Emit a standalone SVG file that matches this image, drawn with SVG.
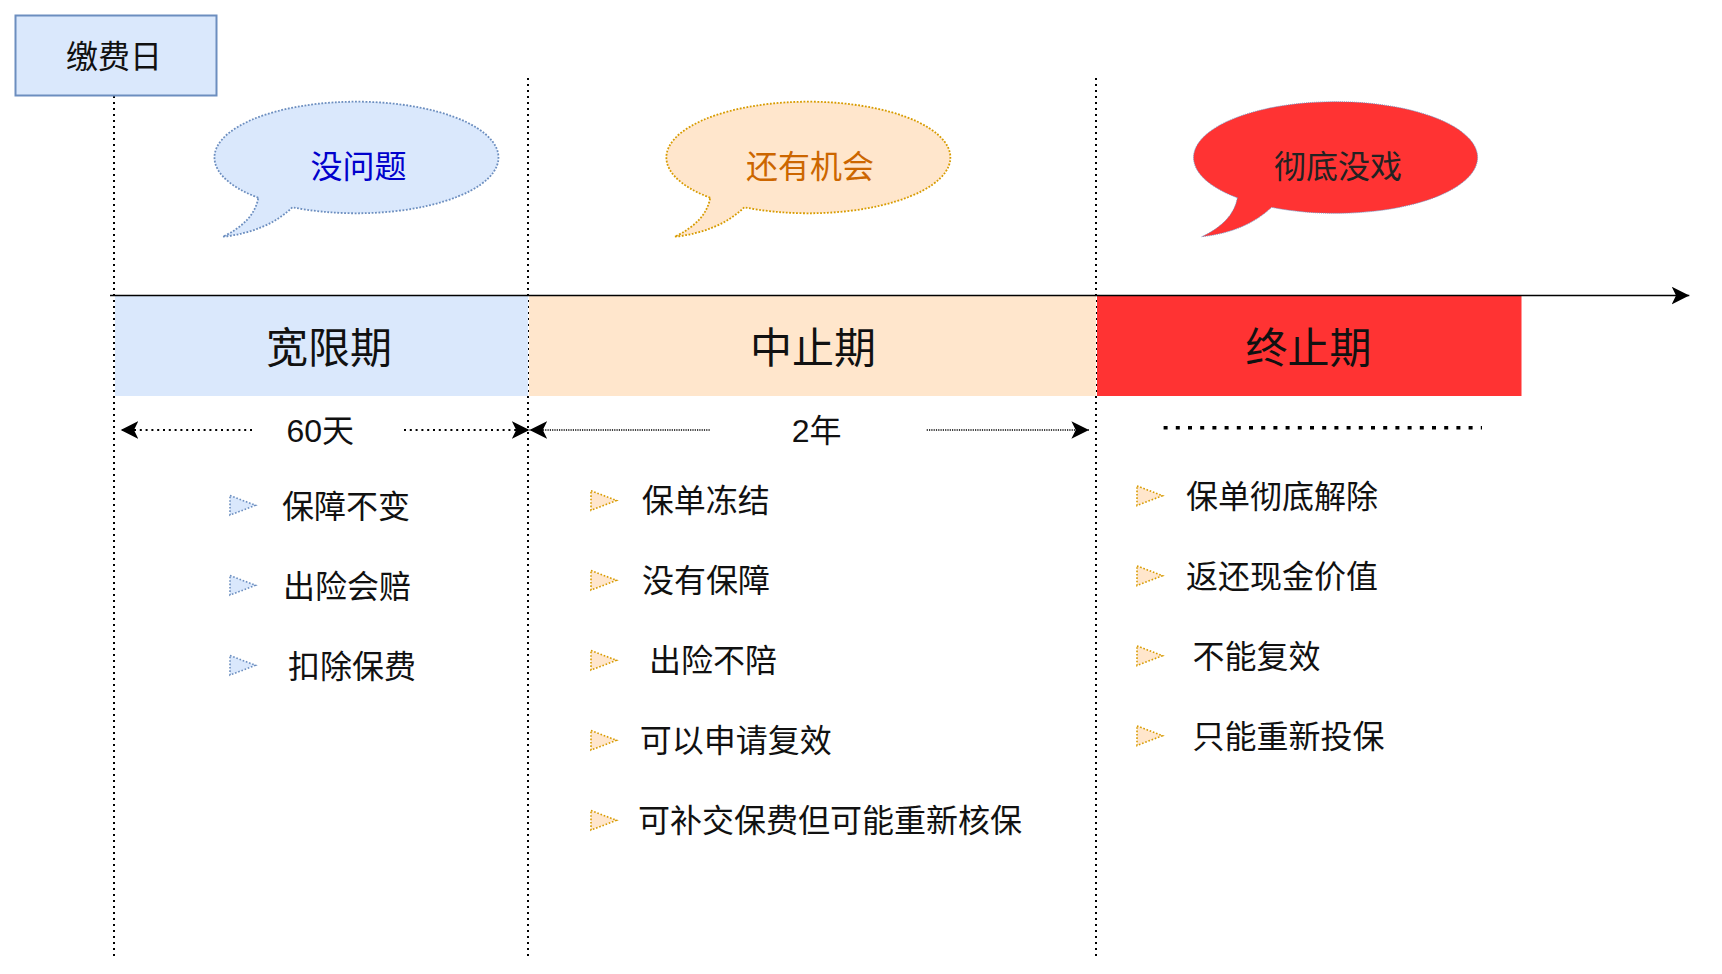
<svg xmlns="http://www.w3.org/2000/svg" width="1722" height="974" viewBox="0 0 1722 974">
<style>
.t{font-family:"Liberation Sans","Noto Sans CJK SC",sans-serif;font-size:32px;fill:#111;text-anchor:middle}
.title{font-size:42px}
.guide{stroke:#000;stroke-width:2;stroke-dasharray:2 4;fill:none}
.tri1{fill:#dae8fc;stroke:#6c8ebf;stroke-width:1.6;stroke-dasharray:1.6 1.8}
.tri2{fill:#ffe6cc;stroke:#d79b00;stroke-width:1.6;stroke-dasharray:1.6 1.8}
</style>
<defs>
<marker id="arr" markerUnits="userSpaceOnUse" markerWidth="18" markerHeight="18" viewBox="0 0 18 18" refX="17.6" refY="8.8" orient="auto">
<path d="M0,0 L17.6,8.8 L0,17.6 L4.3,8.8 Z" fill="#000" stroke="none"/>
</marker>
<polygon id="tri" points="0,-9.8 25.5,0 0,9.8"/>
</defs>
<rect width="1722" height="974" fill="#fff"/>

<g id="guides">
<line class="guide" x1="114" y1="96" x2="114" y2="956"/>
<line class="guide" x1="528" y1="78" x2="528" y2="956"/>
<line class="guide" x1="1096" y1="78" x2="1096" y2="956"/>
</g>

<g id="node-payday">
<rect x="15.5" y="15.5" width="201" height="80" fill="#dae8fc" stroke="#6c8ebf" stroke-width="2"/>
<text class="t" x="114" y="67.8">缴费日</text>
</g>

<g id="bubble-ok">
<path d="M258.3,197.8 A142,55.8 0 1 1 292.5,207.3 Q266.4,232 222.7,236.7 Q254,222 258.3,197.8 Z" fill="#dae8fc" stroke="#6c8ebf" stroke-width="1.8" stroke-dasharray="1.8 1.6"/>
<text class="t" x="358.4" y="178" style="fill:#0000cc">没问题</text>
</g>
<g id="bubble-chance">
<path d="M710.2,197.8 A142,55.8 0 1 1 744.4,207.3 Q718.3,232 674.6,236.7 Q705.9,222 710.2,197.8 Z" fill="#ffe6cc" stroke="#d79b00" stroke-width="1.8" stroke-dasharray="1.8 1.6"/>
<text class="t" x="810" y="178" style="fill:#cc6600">还有机会</text>
</g>
<g id="bubble-over">
<path d="M1237.4,197.8 A142,55.8 0 1 1 1271.6,207.3 Q1245.5,232 1201.8,236.7 Q1233.1,222 1237.4,197.8 Z" fill="#ff3333" stroke="#6c8ebf" stroke-width="1" stroke-dasharray="1 1"/>
<text class="t" x="1338" y="178" style="fill:#222">彻底没戏</text>
</g>

<g id="phase-grace">
<rect x="115" y="296" width="413" height="100" fill="#dae8fc"/>
<text class="t title" x="329" y="362.7">宽限期</text>
</g>
<g id="phase-suspend">
<rect x="529" y="296" width="567" height="100" fill="#ffe6cc"/>
<text class="t title" x="813" y="362.7">中止期</text>
</g>
<g id="phase-terminate">
<rect x="1097" y="296" width="424.5" height="100" fill="#ff3333"/>
<text class="t title" x="1308.5" y="362.7">终止期</text>
</g>

<g id="connectors">
<line x1="110" y1="295.5" x2="1689.3" y2="295.5" stroke="#000" stroke-width="1.5" marker-end="url(#arr)"/>
<line x1="252" y1="430" x2="120.7" y2="430" stroke="#000" stroke-width="2" stroke-dasharray="2 3.8" marker-end="url(#arr)"/>
<line x1="404" y1="430" x2="529.5" y2="430" stroke="#000" stroke-width="2" stroke-dasharray="2 3.8" marker-end="url(#arr)"/>
<line x1="709.7" y1="430" x2="529.5" y2="430" stroke="#000" stroke-width="1.5" stroke-dasharray="1.2 1.1" marker-end="url(#arr)"/>
<line x1="926.7" y1="430" x2="1089" y2="430" stroke="#000" stroke-width="1.5" stroke-dasharray="1.2 1.1" marker-end="url(#arr)"/>
<line x1="1163.6" y1="427.7" x2="1482" y2="427.7" stroke="#000" stroke-width="3.5" stroke-dasharray="4 8.2"/>
</g>

<g id="label-60d"><text class="t" x="320.3" y="441.5">60天</text></g>
<g id="label-2y"><text class="t" x="816.7" y="441.5">2年</text></g>

<g id="list-grace">
<use href="#tri" class="tri1" x="230" y="505.3"/>
<text class="t" x="346" y="518">保障不变</text>
<use href="#tri" class="tri1" x="230" y="585.3"/>
<text class="t" x="347" y="598">出险会赔</text>
<use href="#tri" class="tri1" x="230" y="665.3"/>
<text class="t" x="352" y="678">扣除保费</text>
</g>

<g id="list-suspend">
<use href="#tri" class="tri2" x="591" y="500.5"/>
<text class="t" x="705.7" y="512">保单冻结</text>
<use href="#tri" class="tri2" x="591" y="580.3"/>
<text class="t" x="705.9" y="592">没有保障</text>
<use href="#tri" class="tri2" x="591" y="660.3"/>
<text class="t" x="713" y="672">出险不陪</text>
<use href="#tri" class="tri2" x="591" y="740.3"/>
<text class="t" x="735.7" y="752">可以申请复效</text>
<use href="#tri" class="tri2" x="591" y="820.3"/>
<text class="t" x="830" y="832">可补交保费但可能重新核保</text>
</g>

<g id="list-terminate">
<use href="#tri" class="tri2" x="1137" y="495.7"/>
<text class="t" x="1282" y="508">保单彻底解除</text>
<use href="#tri" class="tri2" x="1137" y="575.7"/>
<text class="t" x="1282" y="588">返还现金价值</text>
<use href="#tri" class="tri2" x="1137" y="655.7"/>
<text class="t" x="1256.4" y="668">不能复效</text>
<use href="#tri" class="tri2" x="1137" y="735.7"/>
<text class="t" x="1288.5" y="748">只能重新投保</text>
</g>
</svg>
